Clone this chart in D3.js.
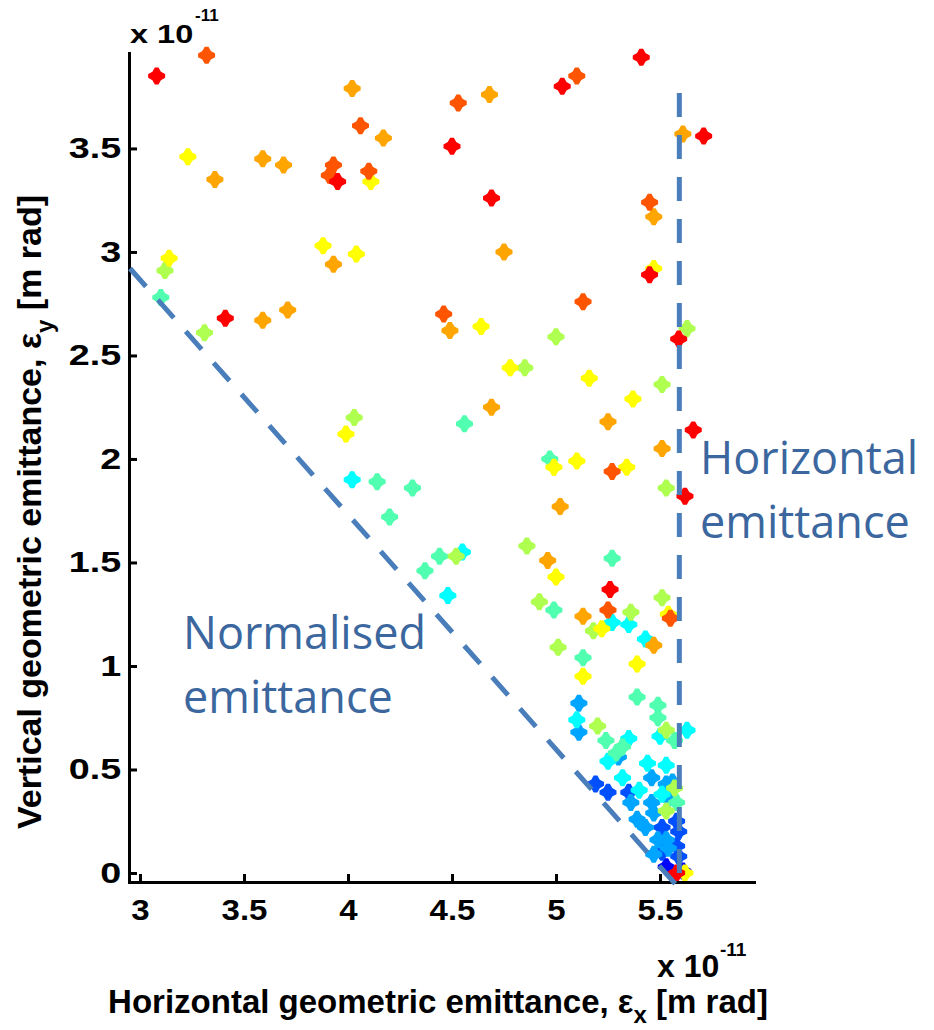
<!DOCTYPE html>
<html>
<head>
<meta charset="utf-8">
<script src="https://cdn.jsdelivr.net/npm/d3@7"></script>
<style>
  body { margin: 0; background: #fff; }
  svg { display: block; }
  .lbl { font-family: "Liberation Sans", Arial, sans-serif; font-weight: bold; fill: #000; }
  .note { font-family: "Open Sans", sans-serif; font-size: 45px; fill: #3b679e; }
</style>
</head>
<body>
<svg id="chart" width="934" height="1030"></svg>
<script>
// emittances in units of 1e-11 m rad, grouped by colour level (jet map)
const ptsDarkBlue = [[5.61,0.01],[5.53,0.03]];
const ptsBlue = [[5.19,0.43],[5.25,0.39],[5.35,0.39],[5.51,0.22],[5.58,0.25],[5.59,0.20],
                 [5.51,0.10],[5.59,0.08],[5.58,0.13]];
const ptsLightBlue = [[5.11,0.82],[5.11,0.68],[5.30,0.56],[5.46,0.46],[5.56,0.44],[5.36,0.34],
                      [5.46,0.34],[5.47,0.29],[5.39,0.26],[5.43,0.22],[5.49,0.16],[5.54,0.12],
                      [5.47,0.09],[5.53,0.16],[5.54,0.36],[5.53,0.43]];
const ptsCyan = [[4.02,1.90],[4.55,1.55],[4.48,1.34],[5.27,1.21],[5.35,1.20],[5.43,1.13],
                 [5.10,0.74],[5.63,0.69],[5.50,0.66],[5.35,0.65],[5.25,0.54],[5.44,0.53],
                 [5.53,0.52],[5.32,0.46],[5.40,0.40],[5.51,0.38]];
const ptsGreen = [[3.10,2.78],[4.14,1.89],[4.31,1.86],[4.20,1.72],[4.56,2.17],[4.97,2.00],
                  [4.44,1.53],[4.37,1.46],[5.27,1.52],[4.99,1.27],[5.13,1.04],[5.39,0.85],
                  [5.49,0.81],[5.49,0.75],[5.24,0.64],[5.57,0.64],[5.29,0.58],[5.32,0.61],
                  [5.58,0.34]];
const ptsYellowGreen = [[3.12,2.91],[3.31,2.61],[4.03,2.20],[5.00,2.59],[4.85,2.44],[5.51,2.36],
                        [5.63,2.63],[5.53,1.86],[4.52,1.53],[4.86,1.58],[5.51,1.33],[4.92,1.31],
                        [5.36,1.26],[5.18,1.17],[5.01,1.09],[5.20,0.71],[5.53,0.69],[5.57,0.41],
                        [5.53,0.30]];
const ptsYellow = [[3.23,3.46],[4.11,3.34],[3.14,2.97],[3.88,3.03],[4.04,2.99],[5.47,2.92],
                   [4.64,2.64],[4.78,2.44],[5.16,2.39],[5.37,2.29],[3.99,2.12],[4.99,1.96],
                   [5.10,1.99],[5.34,1.96],[5.00,1.43],[5.54,1.25],[5.22,1.18],[5.39,1.01],
                   [5.13,0.95],[5.62,0.00]];
const ptsOrange = [[4.02,3.79],[4.17,3.55],[4.68,3.76],[5.61,3.57],[5.47,3.17],[3.59,3.45],
                   [3.69,3.42],[3.36,3.35],[3.93,2.94],[4.75,3.00],[3.59,2.67],[3.71,2.72],
                   [4.49,2.62],[4.69,2.25],[5.25,2.18],[5.51,2.05],[5.02,1.77],[4.96,1.51],
                   [5.13,1.24],[5.47,1.10]];
const ptsOrangeRed = [[3.32,3.95],[4.06,3.61],[3.93,3.42],[3.91,3.37],[4.10,3.39],[4.53,3.72],
                      [5.10,3.85],[5.45,3.24],[4.46,2.70],[5.13,2.76],[5.27,1.94],[5.25,1.27],
                      [5.55,1.23]];
const ptsRed = [[3.08,3.85],[3.95,3.34],[3.41,2.68],[4.50,3.51],[4.69,3.26],[5.03,3.80],
                [5.41,3.94],[5.71,3.56],[5.45,2.89],[5.59,2.58],[5.66,2.14],[5.62,1.82],
                [5.26,1.37],[5.58,0.00]];

const levelNames = ['darkBlue','blue','lightBlue','cyan','green','yellowGreen','yellow','orange','orangeRed','red'];
const levelColours = ['#0000ff','#0050ff','#00a5ff','#00ffff','#50ffaf','#afff50','#ffff00','#ffa500','#ff5500','#ff0000'];

const xTicks = [3, 3.5, 4, 4.5, 5, 5.5];
const yTicks = [0, 0.5, 1, 1.5, 2, 2.5, 3, 3.5];

// overlay guide lines (same units)
const normalisedLine = [[2.952, 2.92], [5.587, -0.068]];
const horizontalLine = [[5.593, 3.768], [5.593, -0.03]];

const series = [ptsDarkBlue, ptsBlue, ptsLightBlue, ptsCyan, ptsGreen, ptsYellowGreen,
                ptsYellow, ptsOrange, ptsOrangeRed, ptsRed]
  .map((pts, i) => ({ level: levelNames[i], pts }));

const svg = d3.select('#chart');

const x = d3.scaleLinear().domain([2.947, 5.952]).range([129, 754]);
const y = d3.scaleLinear().domain([-0.0435, 3.961]).range([882, 53]);
const colour = d3.scaleOrdinal().domain(levelNames).range(levelColours);

svg.append('rect').attr('width', 934).attr('height', 1030).attr('fill', '#fff');

// 4 point star like a fat '+'
const plusStar = {
  draw(ctx, size) {
    const r = Math.sqrt(size) / 2, t = r * 0.22, b = r * 0.5;
    ctx.moveTo(-t, -r); ctx.lineTo(t, -r); ctx.lineTo(b, -b); ctx.lineTo(r, -t);
    ctx.lineTo(r, t); ctx.lineTo(b, b); ctx.lineTo(t, r); ctx.lineTo(-t, r);
    ctx.lineTo(-b, b); ctx.lineTo(-r, t); ctx.lineTo(-r, -t); ctx.lineTo(-b, -b);
    ctx.closePath();
  }
};
const marker = d3.symbol().type(plusStar).size(289);

const pointsG = svg.append('g');
series.forEach(s => {
  pointsG.selectAll(null).data(s.pts)
    .enter().append('path')
    .attr('d', marker)
    .attr('transform', d => `translate(${x(d[0])},${y(d[1])})`)
    .attr('fill', colour(s.level));
});

// axes, ticks pointing inward
const xAxis = d3.axisBottom(x).tickValues(xTicks).tickFormat(d3.format('~g'))
  .tickSizeInner(-8).tickSizeOuter(0).tickPadding(17);
const yAxis = d3.axisLeft(y).tickValues(yTicks).tickFormat(d3.format('~g'))
  .tickSizeInner(-8).tickSizeOuter(0).tickPadding(6);

const xAxisG = svg.append('g').attr('transform', 'translate(0,882)').call(xAxis);
const yAxisG = svg.append('g').attr('transform', 'translate(129,0)').call(yAxis);

[xAxisG, yAxisG].forEach(g => {
  g.attr('font-family', '"Liberation Sans", Arial, sans-serif')
   .attr('font-weight', 'bold')
   .attr('font-size', 30);
  g.select('.domain').attr('stroke', '#000').attr('stroke-width', 3).attr('stroke-linecap', 'square');
  g.selectAll('.tick line').attr('stroke', '#000').attr('stroke-width', 3);
  g.selectAll('.tick text').attr('fill', '#000');
});
xAxisG.selectAll('.tick text').attr('transform', 'scale(1.1,1)');
yAxisG.attr('font-size', 29).selectAll('.tick text').attr('transform', 'scale(1.3,1)');

// exponent labels
const expTop = svg.append('g').attr('class', 'lbl');
expTop.append('text').attr('transform', 'translate(130,43) scale(1.3,1)')
  .attr('font-size', 25).text('x 10');
expTop.append('text').attr('x', 195).attr('y', 21).attr('font-size', 17).text('-11');

const expBottom = svg.append('g').attr('class', 'lbl');
expBottom.append('text').attr('x', 657).attr('y', 977).attr('font-size', 32).text('x 10');
expBottom.append('text').attr('x', 720).attr('y', 956).attr('font-size', 19).text('-11');

// axis titles
const xTitle = svg.append('text').attr('class', 'lbl')
  .attr('x', 438).attr('y', 1013).attr('text-anchor', 'middle').attr('font-size', 33);
xTitle.append('tspan').text('Horizontal geometric emittance, \u03b5');
xTitle.append('tspan').attr('dy', 10).attr('font-size', 24).text('x');
xTitle.append('tspan').attr('dy', -10).text(' [m rad]');

const yTitle = svg.append('text').attr('class', 'lbl')
  .attr('transform', 'translate(41,512) rotate(-90)')
  .attr('text-anchor', 'middle').attr('font-size', 34);
yTitle.append('tspan').text('Vertical geometric emittance, \u03b5');
yTitle.append('tspan').attr('dy', 12).attr('font-size', 24).text('y');
yTitle.append('tspan').attr('dy', -12).text(' [m rad]');

// dashed guides
const line = d3.line().x(d => x(d[0])).y(d => y(d[1]));
[normalisedLine, horizontalLine].forEach(l => {
  svg.append('path').attr('d', line(l))
    .attr('fill', 'none').attr('stroke', '#4a7ebb')
    .attr('stroke-width', 5).attr('stroke-dasharray', '24,18');
});

// annotations
const notes = svg.append('g').attr('class', 'note');
notes.append('text').attr('x', 183).attr('y', 649).text('Normalised');
notes.append('text').attr('x', 183).attr('y', 713).text('emittance');
notes.append('text').attr('x', 700).attr('y', 474).text('Horizontal');
notes.append('text').attr('x', 700).attr('y', 538).text('emittance');
</script>
</body>
</html>
